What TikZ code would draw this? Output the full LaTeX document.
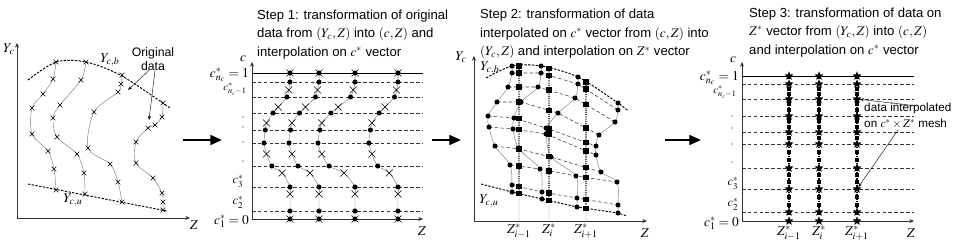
\documentclass[tikz,border=0pt]{standalone}
\usepackage{mathptmx}
\usepackage[no-math]{fontspec}
\setmainfont{Liberation Sans}
\usetikzlibrary{arrows.meta, positioning, shapes.geometric, shapes.misc, calc}

\tikzset{
    axisarr/.style={-{Stealth[length=4pt, width=3.5pt]}, line width=0.7pt, draw=black!80},
    steptext/.style={anchor=north west, align=left, inner sep=0pt, font=\fontsize{11.2}{15.8}\selectfont},
    lbl/.style={inner sep=0pt, font=\fontsize{11.5}{13}\selectfont},
    smlbl/.style={inner sep=0pt, font=\fontsize{9}{10}\selectfont},
    note/.style={inner sep=0pt, font=\fontsize{10}{13.6}\selectfont},
    crs/.style={cross out, draw, minimum size=5.5pt, inner sep=0pt, line width=0.45pt},
    dotmk/.style={circle, fill, minimum size=4.3pt, inner sep=0pt},
    sqmk/.style={rectangle, fill, minimum size=4.8pt, inner sep=0pt},
    smsq/.style={rectangle, fill, minimum size=2.6pt, inner sep=0pt},
    starmk/.style={star, star points=5, star point ratio=2.3, fill, minimum size=8pt, inner sep=0pt},
    curve/.style={draw=black!55, line width=0.35pt},
    xcurve/.style={curve, mark=x, mark size=2.8pt, mark options={draw=black, line width=0.45pt}},
    lvl/.style={dash pattern=on 3pt off 2pt, draw=black!80, line width=0.45pt},
    bnd/.style={dash pattern=on 2pt off 1.2pt, line width=0.8pt},
    zline/.style={densely dotted, line width=0.9pt},
    bigarr/.style={-{Triangle[length=10pt, width=8.5pt]}, line width=1.8pt},
    ptr/.style={-{Stealth[length=3.5pt, width=2.5pt]}, line width=0.35pt}
}

\begin{document}
\begin{tikzpicture}[x=0.03cm, y=-0.03cm]
    \useasboundingbox (0,0) rectangle (956,245);

    % Panel 1: original data in (Y_c, Z)
    \coordinate (o1) at (17,218);
    \coordinate (yc1) at (17,43);
    \coordinate (z1) at (190,218);
    \draw[axisarr] (o1) -- (yc1);
    \draw[axisarr] (o1) -- (z1);
    \node[lbl] (ylab1) at (9,49) {$Y_c$};
    \node[lbl] (zlab1) at (194,225) {$Z$};

    \draw[bnd] plot[smooth] coordinates {(28,80) (56,62) (86,62) (122,76) (170,108)};
    \draw[bnd] (28,184) -- (167,211);
    \node[lbl] (ycb1) at (110,60) {$Y_{c,b}$};
    \node[lbl] (ycu1) at (73,200) {$Y_{c,u}$};

    \draw[xcurve] plot[smooth] coordinates {(56,62) (53,79) (43,94) (32,108) (32,134) (48,151) (54,169) (56,190)};
    \draw[xcurve] plot[smooth] coordinates {(86,62) (81,80) (60,105) (53,118) (57,137) (77,154) (84,173) (85,194)};
    \draw[xcurve] plot[smooth] coordinates {(122,75) (121,84) (118,92) (94,112) (88,148) (110,164) (118,182) (122,202)};
    \draw[xcurve] plot[smooth] coordinates {(163,103) (162,117) (155,125) (148,128) (136,142) (136,163) (153,178) (162,193) (163,202) (163,210)};

    \node[note, align=center, font=\fontsize{10.5}{11.5}\selectfont] (orig) at (153,59) {Original\\data};
    \coordinate (od1) at (128,90);
    \coordinate (od2) at (149,120);
    \draw[ptr] ([xshift=-3.4pt]orig.south) -- (od1);
    \draw[ptr] ([xshift=1.7pt]orig.south) -- (od2);

    % Step arrows
    \coordinate (b1s) at (183,140);
    \coordinate (b1e) at (222,140);
    \coordinate (b2s) at (432,140);
    \coordinate (b2e) at (461,140);
    \coordinate (b3s) at (665,140);
    \coordinate (b3e) at (701,140);
    \draw[bigarr] (b1s) -- (b1e);
    \draw[bigarr] (b2s) -- (b2e);
    \draw[bigarr] (b3s) -- (b3e);

    % Panel 2: (c, Z) plane
    \node[steptext] (s1) at (257,9.5) {Step 1: transformation of original\\data from $(Y_c,Z)$ into $(c,Z)$ and\\interpolation on $c^*$ vector};
    \draw[line width=0.6pt] (252,73) -- (423,73);
    \foreach \y in {82,97,113,130,143,166,187,211}
        \draw[lvl] (252,\y) -- (423,\y);
    \coordinate (o2) at (252,219);
    \coordinate (c2) at (252,62);
    \coordinate (z2) at (423,219);
    \draw[axisarr] (o2) -- (c2);
    \draw[axisarr] (o2) -- (z2);
    \node[lbl] (clab2) at (243,59) {$c$};
    \node[lbl] (zlab2) at (422,231) {$Z$};
    \node[lbl, anchor=base east] (top2) at (249,77) {$c^*_{n_c}=1$};
    \node[smlbl] (sec2) at (235,89) {$c^*_{n_c-1}$};
    \foreach \y in {117,127,142,161}
        \fill (243,\y) circle (0.6pt);
    \node[lbl, font=\fontsize{10.5}{12}\selectfont] (c32) at (238,181) {$c^*_3$};
    \node[lbl, font=\fontsize{10.5}{12}\selectfont] (c22) at (238,202) {$c^*_2$};
    \node[lbl, anchor=base east] (bot2) at (249,224) {$c^*_1=0$};

    \foreach \b/\a in {290/26, 319/30, 355/37, 398/29} {
        \draw[curve] plot[smooth] coordinates {(\b,73) (\b,82) (\b-0.05*\a,90) (\b-0.12*\a,97) (\b-0.45*\a,107) (\b-0.65*\a,113) (\b-0.9*\a,123) (\b-0.95*\a,130) (\b-\a,143) (\b-0.9*\a,154) (\b-0.7*\a,166) (\b-0.3*\a,173) (\b,187) (\b,194) (\b,211) (\b,219)};
        \foreach \y/\p in {73/0, 82/0, 97/0.12, 113/0.65, 130/0.95, 143/1, 166/0.7, 187/0, 211/0, 219/0}
            \node[dotmk] at (\b-\p*\a,\y) {};
        \foreach \y/\p in {73/0, 90/0.05, 107/0.45, 123/0.9, 154/0.9, 173/0.3, 194/0, 219/0}
            \node[crs] at (\b-\p*\a,\y) {};
    }

    % Panel 3: back to (Y_c, Z)
    \node[steptext] (s2) at (480,9) {Step 2: transformation of data\\interpolated on $c^*$ vector from $(c,Z)$ into\\$(Y_c,Z)$ and interpolation on $Z^*$ vector};
    \coordinate (o3) at (474,221);
    \coordinate (yc3) at (474,56);
    \coordinate (z3) at (647,221);
    \draw[axisarr] (o3) -- (yc3);
    \draw[axisarr] (o3) -- (z3);
    \node[lbl] (ylab3) at (461,57) {$Y_c$};
    \node[lbl] (zlab3) at (645,233) {$Z$};

    \foreach \i/\ax/\ay/\bx/\by/\cx/\cy/\dx/\dy in {
        1/512/66/541/66/578/77/618/103,
        2/512/73/541/73/578/84/618/110,
        3/508/87/538/87/575/98/615/122,
        4/497/102/521/102/558/113/599/135,
        5/488/116/514/118/546/128/596/146,
        6/489/127/513/129/546/134/596/155,
        7/495/146/519/149/551/157/601/172,
        8/510/165/540/169/576/176/617/182,
        9/512/185/542/192/577/198/618/205,
        10/512/192/542/199/577/207/618/213} {
        \coordinate (A\i) at (\ax,\ay);
        \coordinate (B\i) at (\bx,\by);
        \coordinate (C\i) at (\cx,\cy);
        \coordinate (D\i) at (\dx,\dy);
        % where the Z* verticals cut this level
        \pgfmathsetmacro\tp{(519-\ax)/(\bx-\ax)}
        \pgfmathsetmacro\tq{(549-\bx)/(\cx-\bx)}
        \pgfmathsetmacro\tr{(586-\cx)/(\dx-\cx)}
        \coordinate (P\i) at ($(A\i)!\tp!(B\i)$);
        \coordinate (Q\i) at ($(B\i)!\tq!(C\i)$);
        \coordinate (R\i) at ($(C\i)!\tr!(D\i)$);
    }
    \foreach \i in {2,...,9}
        \draw[lvl] (A\i) -- (B\i) -- (C\i) -- (D\i);
    \draw[bnd] plot[smooth] coordinates {(486,78) (A1) (B1) (C1) (D1) (628,111)};
    \draw[bnd] (481,184) -- (A10) -- (B10) -- (C10) -- (D10) -- (627,216);
    \node[lbl] (ycb3) at (490,68) {$Y_{c,b}$};
    \node[lbl] (ycu3) at (489,201) {$Y_{c,u}$};
    \foreach \c in {A,B,C,D}
        \draw[curve] plot[smooth] coordinates {(\c1) (\c2) (\c3) (\c4) (\c5) (\c6) (\c7) (\c8) (\c9) (\c10)};

    \coordinate (zb1) at (519,221);
    \coordinate (zb2) at (549,221);
    \coordinate (zb3) at (586,221);
    \foreach \i in {1,...,10} {
        \node[sqmk] (p\i) at (P\i) {};
        \node[sqmk] (q\i) at (Q\i) {};
        \node[sqmk] (r\i) at (R\i) {};
    }
    \draw[zline] (p1) -- (p10);
    \draw[zline] (q1) -- (q10);
    \draw[zline] (r1) -- (r10);
    \draw[black!45, line width=0.4pt] (p10) -- (zb1);
    \draw[black!45, line width=0.4pt] (q10) -- (zb2);
    \draw[black!45, line width=0.4pt] (r10) -- (zb3);
    \foreach \c in {A,B,C,D}
        \foreach \i in {1,...,10}
            \node[dotmk] at (\c\i) {};
    \node[lbl, below=2pt of zb1] (zi1) {$Z^*_{i-1}$};
    \node[lbl, below=2pt of zb2] (zi2) {$Z^*_{i}$};
    \node[lbl, below=2pt of zb3] (zi3) {$Z^*_{i+1}$};

    % Panel 4: c* x Z* mesh
    \node[steptext] (s3) at (749,7.5) {Step 3: transformation of data on\\$Z^*$ vector from $(Y_c,Z)$ into $(c,Z)$\\and interpolation on $c^*$ vector};
    \draw[line width=0.6pt] (742,76) -- (914,76);
    \foreach \y in {84,99,116,132,144,168,189,212}
        \draw[lvl] (742,\y) -- (914,\y);
    \coordinate (o4) at (742,221);
    \coordinate (c4) at (742,62);
    \coordinate (z4) at (914,221);
    \draw[axisarr] (o4) -- (c4);
    \draw[axisarr] (o4) -- (z4);
    \node[lbl] (clab4) at (733,60) {$c$};
    \node[lbl] (zlab4) at (911,233) {$Z$};
    \node[lbl, anchor=base east] (top4) at (739,80) {$c^*_{n_c}=1$};
    \node[smlbl] (sec4) at (725,92) {$c^*_{n_c-1}$};
    \foreach \y in {116,128,144,162}
        \fill (732,\y) circle (0.6pt);
    \node[lbl, font=\fontsize{10.5}{12}\selectfont] (c34) at (733,183) {$c^*_3$};
    \node[lbl, font=\fontsize{10.5}{12}\selectfont] (c24) at (733,204) {$c^*_2$};
    \node[lbl, anchor=base east] (bot4) at (739,226) {$c^*_1=0$};

    \foreach \x [count=\k] in {789,819,857} {
        \foreach \y in {89,94,104,110,121,127,138,152,160,175,182,197,205}
            \node[smsq] at (\x,\y) {};
        \foreach \y [count=\i] in {76,84,99,116,132,144,168,189,212,221}
            \node[starmk] (st\k-\i) at (\x,\y) {};
        \draw[zline] (st\k-1) -- (st\k-10);
    }
    \node[lbl, below=2pt of st1-10] (zs1) {$Z^*_{i-1}$};
    \node[lbl, below=2pt of st2-10] (zs2) {$Z^*_{i}$};
    \node[lbl, below=2pt of st3-10] (zs3) {$Z^*_{i+1}$};

    \node[note, align=left, anchor=north west] (mesh) at (864,103) {data interpolated\\on $c^*\times Z^*$ mesh};
    \coordinate (m1) at (917,106);
    \coordinate (m2) at (898,130);
    \draw[ptr] (m1) -- (st3-3);
    \draw[ptr] (m2) -- (st3-8);
\end{tikzpicture}
\end{document}
